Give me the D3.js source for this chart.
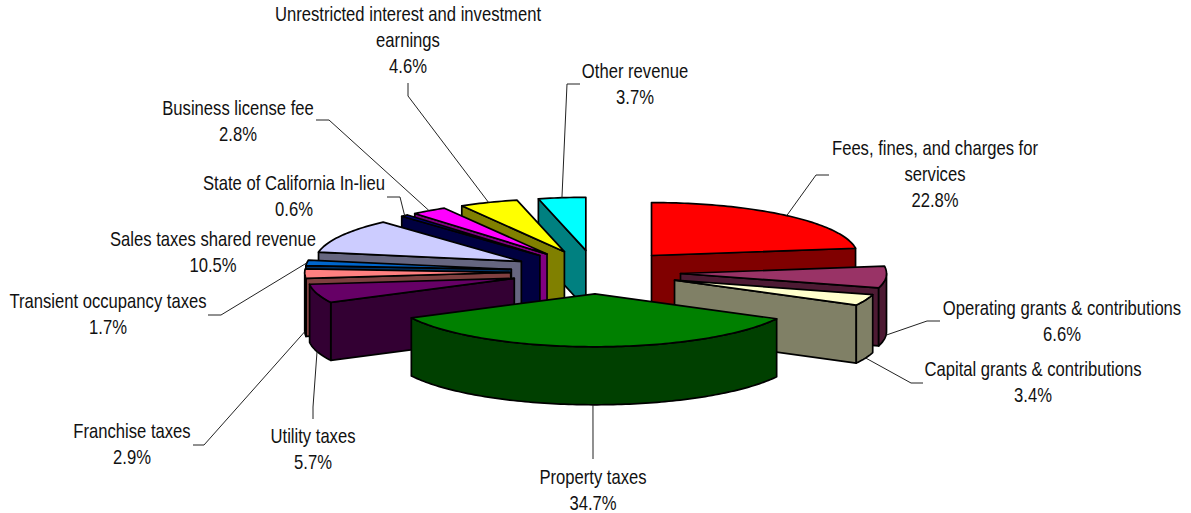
<!DOCTYPE html>
<html>
<head>
<meta charset="utf-8">
<script src="https://cdn.jsdelivr.net/npm/d3@7"></script>
<style>
  html, body { margin: 0; padding: 0; background: #fff; }
  svg { display: block; }
  text { font-family: "Liberation Sans", Arial, sans-serif; font-size: 20px; fill: #111; }
</style>
</head>
<body>
<div id="chart"></div>
<script>
// Data, clockwise from 12 o'clock
const categories = [
    ["Fees, fines, and charges for", "services"],
    ["Operating grants & contributions"],
    ["Capital grants & contributions"],
    ["Property taxes"],
    ["Utility taxes"],
    ["Franchise taxes"],
    ["Transient occupancy taxes"],
    ["Sales taxes shared revenue"],
    ["State of California In-lieu"],
    ["Business license fee"],
    ["Unrestricted interest and investment", "earnings"],
    ["Other revenue"]
];
const shares = [22.8, 6.6, 3.4, 34.7, 5.7, 2.9, 1.7, 10.5, 0.6, 2.8, 4.6, 3.7];
const colors = ["#ff0000", "#993366", "#ffffcc", "#008000", "#660066", "#ff8080",
    "#0066cc", "#ccccff", "#000080", "#ff00ff", "#ffff00", "#00ffff"];

// Label centre [x, y of first line] and leader bend points, same order as above
const labelPos = [[935, 148], [1062, 308], [1033, 369], [593, 477], [313, 436], [132, 431],
    [108, 301], [213, 239], [294, 183], [238, 108], [408, 14], [635, 71]];
const leaders = [
    [[816, 175], [829, 175]],
    [[927, 321], [940, 321]],
    [[911, 383], [923, 383]],
    [[593, 447], [593, 459]],
    [[313, 407], [313, 419]],
    [[204, 445], [193, 445]],
    [[221, 315], [208, 315]],
    null,
    [[400, 197], [387, 197]],
    [[329, 120], [316, 120]],
    [[408, 96], [408, 83]],
    [[567, 84], [580, 84]]
];

const width = 1191, height = 513;
const center = { x: 595.7, y: 272 };
const radius = 206;
const tilt = 0.257;     // vertical squash of the pie
const explode = 85;     // how far slices are pulled out
const depth = 58;
const textSquash = 0.832;  // labels in the picture are narrower than they are tall

const svg = d3.select("#chart")
    .append("svg")
    .attr("width", width)
    .attr("height", height);

// Pie layout
const pie = d3.pie().sort(null).value(d => d)(shares);

const px = (a, r) => Math.sin(a) * r;
const py = (a, r) => -Math.cos(a) * r * tilt;

const slices = pie.map((p, i) => {
    const mid = (p.startAngle + p.endAngle) / 2;
    return {
        i: i,
        a0: p.startAngle,
        a1: p.endAngle,
        mid: mid,
        ax: center.x + px(mid, explode),
        ay: center.y + py(mid, explode),
        fill: colors[i]
    };
});

const line = d3.line();

function rimPoints(s, a0, a1, dz) {
    const n = Math.max(2, Math.ceil((a1 - a0) / 0.02));
    return d3.range(n + 1).map(k => {
        const a = a0 + (a1 - a0) * k / n;
        return [s.ax + px(a, radius), s.ay + py(a, radius) + dz];
    });
}

function halfColor(c) {
    const rgb = d3.rgb(c);
    return d3.rgb(rgb.r / 2, rgb.g / 2, rgb.b / 2).formatHex();
}

// Back to front
const order = slices.slice().sort((a, b) => Math.cos(b.mid) - Math.cos(a.mid));

const pieG = svg.append("g")
    .attr("stroke", "#000")
    .attr("stroke-width", 1.7)
    .attr("stroke-linejoin", "round");

order.forEach(s => {
    const g = pieG.append("g");
    const side = halfColor(s.fill);

    // Radial faces, only the ones turned towards the viewer
    [[s.a0, -Math.sin(s.a0)], [s.a1, Math.sin(s.a1)]].forEach(([a, facing]) => {
        if (facing <= 0.001) return;
        const rx = s.ax + px(a, radius), ry = s.ay + py(a, radius);
        g.append("path")
            .attr("fill", side)
            .attr("d", line([[s.ax, s.ay], [rx, ry], [rx, ry + depth], [s.ax, s.ay + depth]]) + "Z");
    });

    // Outer wall, front half only
    const w0 = Math.max(s.a0, Math.PI / 2), w1 = Math.min(s.a1, Math.PI * 1.5);
    if (w1 > w0) {
        const top = rimPoints(s, w0, w1, 0);
        const bottom = rimPoints(s, w0, w1, depth).reverse();
        g.append("path")
            .attr("fill", side)
            .attr("d", line(top.concat(bottom)) + "Z");
    }

    // Top face
    g.append("path")
        .attr("fill", s.fill)
        .attr("d", line([[s.ax, s.ay]].concat(rimPoints(s, s.a0, s.a1, 0))) + "Z");
});

// Leader lines
const leaderG = svg.append("g")
    .attr("fill", "none")
    .attr("stroke", "#222")
    .attr("stroke-width", 1);

slices.forEach(s => {
    const bend = leaders[s.i];
    if (!bend) return;
    const front = Math.cos(s.mid) < 0;
    const start = [s.ax + px(s.mid, radius), s.ay + py(s.mid, radius) + (front ? depth : 0)];
    leaderG.append("path").attr("d", line([start].concat(bend)));
});

// Labels
const lineStep = 26;
const labels = svg.selectAll("g.label")
    .data(slices)
    .join("g")
    .attr("class", "label")
    .attr("transform", d => `translate(${labelPos[d.i][0]},${labelPos[d.i][1] + 7}) scale(${textSquash},1)`);

labels.each(function (d) {
    const rows = categories[d.i].concat([shares[d.i].toFixed(1) + "%"]);
    d3.select(this).selectAll("text")
        .data(rows)
        .join("text")
        .attr("text-anchor", "middle")
        .attr("y", (r, k) => k * lineStep)
        .text(r => r);
});
</script>
</body>
</html>
